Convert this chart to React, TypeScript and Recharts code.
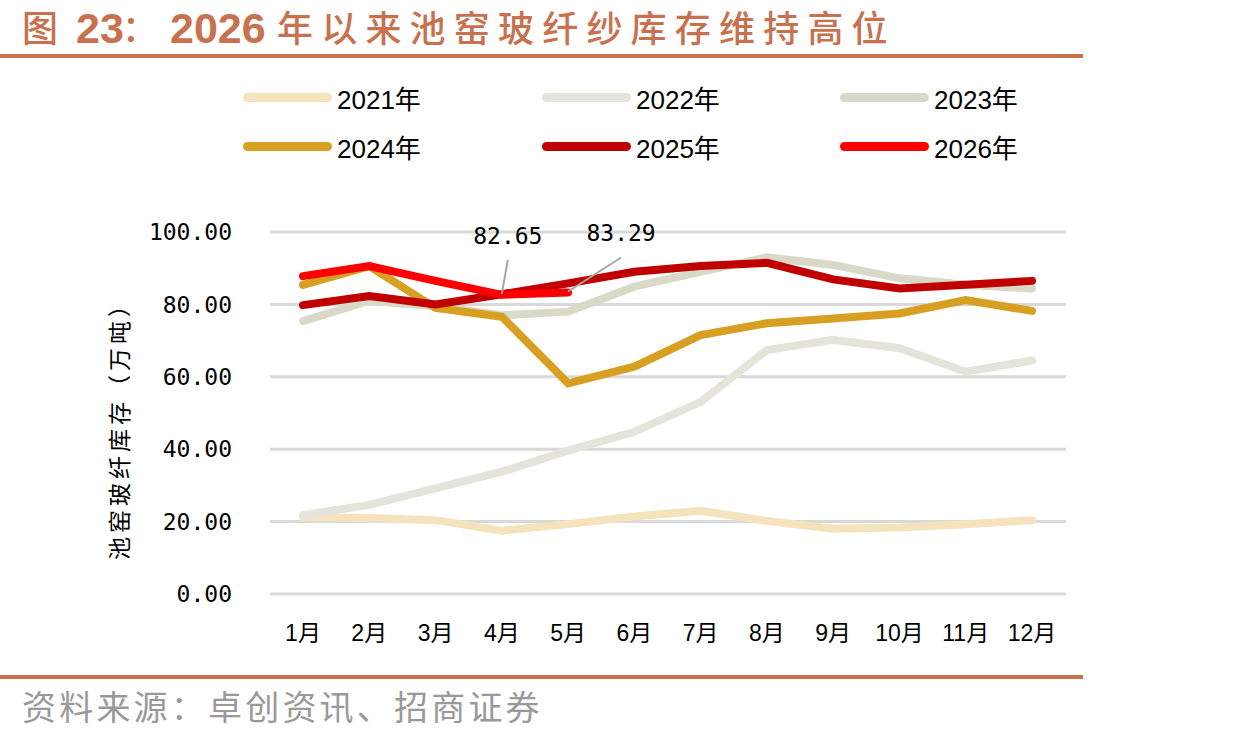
import React from "react";
import { LineChart, Line, XAxis, YAxis, CartesianGrid, Legend, LabelList } from "recharts";

// 池窑玻纤纱库存（万吨），按月
const months = ["1月", "2月", "3月", "4月", "5月", "6月", "7月", "8月", "9月", "10月", "11月", "12月"];
const inv2021 = [21.3, 21.0, 20.4, 17.5, 19.3, 21.4, 23.0, 20.2, 18.0, 18.4, 19.3, 20.4];
const inv2022 = [21.8, 24.6, 29.2, 33.8, 39.6, 44.8, 53.1, 67.4, 70.2, 67.9, 61.4, 64.5];
const inv2023 = [75.4, 81.0, 79.5, 77.0, 78.0, 84.9, 89.0, 93.0, 90.9, 87.2, 85.4, 84.4];
const inv2024 = [85.4, 90.6, 79.0, 76.6, 58.2, 62.8, 71.5, 74.8, 76.1, 77.5, 81.2, 78.2];
const inv2025 = [79.8, 82.3, 80.0, 82.8, 85.8, 89.0, 90.6, 91.5, 86.9, 84.4, 85.4, 86.5];
const inv2026 = [87.8, 90.6, 86.5, 82.65, 83.29];
const yTicks = [0, 20, 40, 60, 80, 100];

const series = [
  { key: "y2021", name: "2021年", color: "#F4E3BD", values: inv2021 },
  { key: "y2022", name: "2022年", color: "#E5E4DA", values: inv2022 },
  { key: "y2023", name: "2023年", color: "#D8D9C7", values: inv2023 },
  { key: "y2024", name: "2024年", color: "#D7A022", values: inv2024 },
  { key: "y2025", name: "2025年", color: "#C00000", values: inv2025 },
  { key: "y2026", name: "2026年", color: "#FF0000", values: inv2026 },
];

const data = months.map((m, i) => {
  const row: Record<string, string | number | undefined> = { month: m };
  series.forEach((s) => {
    row[s.key] = s.values[i];
  });
  return row;
});

const LATIN = '"Liberation Sans", Arial, "Noto Sans CJK SC", sans-serif';
const MONO = '"DejaVu Sans Mono", monospace';
const CJK = '"Noto Sans CJK SC", sans-serif';
const BRAND = "#C8714F";

// leader-line offsets for the two annotated 2026 points
const callouts: Record<number, { dx: number; dy: number }> = {
  3: { dx: 6, dy: -35 },
  4: { dx: 53, dy: -35 },
};

function Callout(props: any) {
  const { x, y, value, index } = props;
  const c = callouts[index];
  if (!c || value == null) return null;
  const ex = x + c.dx;
  const ey = y + c.dy;
  return (
    <g>
      <line x1={x} y1={y - 1} x2={ex} y2={ey} stroke="#A6A6A6" strokeWidth={2} />
      <text x={ex} y={ey - 24} textAnchor="middle" dominantBaseline="central" fontFamily={MONO} fontSize={23} fill="#000">
        {Number(value).toFixed(2)}
      </text>
    </g>
  );
}

function LegendGrid({ payload }: any) {
  const items = (payload && payload.length ? payload : series.map((s) => ({ value: s.name, color: s.color }))) as any[];
  return (
    <div style={{ display: "grid", gridTemplateColumns: "299px 298px 298px" }}>
      {items.map((it) => (
        <div key={it.value} style={{ display: "flex", alignItems: "center", height: 49 }}>
          <span style={{ width: 89, height: 9, borderRadius: 5, background: it.color, marginRight: 5 }} />
          <span style={{ fontFamily: LATIN, fontSize: 26, color: "#000" }}>{it.value}</span>
        </div>
      ))}
    </div>
  );
}

function AxisTitle(props: any) {
  const vb = props.viewBox || {};
  const cx = vb.x - 52;
  const cy = vb.y + vb.height / 2 + 12;
  return (
    <text
      x={cx}
      y={cy}
      transform={`rotate(-90 ${cx} ${cy})`}
      textAnchor="middle"
      dominantBaseline="central"
      fontFamily={CJK}
      fontSize={23}
      letterSpacing={4}
      fill="#000"
    >
      池窑玻纤库存（万吨）
    </text>
  );
}

function Title() {
  return (
    <svg width={1239} height={60} style={{ position: "absolute", left: 0, top: 0 }}>
      <text fill={BRAND}>
        <tspan x={22} y={42} fontFamily={CJK} fontSize={36} fontWeight={500}>图</tspan>
        <tspan x={76} y={43} fontFamily={LATIN} fontSize={43} fontWeight={700}>23</tspan>
        <tspan x={122} y={42} fontFamily={CJK} fontSize={36} fontWeight={500}>：</tspan>
        <tspan x={170} y={43} fontFamily={LATIN} fontSize={43} fontWeight={700}>2026</tspan>
        <tspan x={277} y={42} fontFamily={CJK} fontSize={36} fontWeight={500} letterSpacing={8.2}>
          年以来池窑玻纤纱库存维持高位
        </tspan>
      </text>
    </svg>
  );
}

export default function App() {
  return (
    <div style={{ position: "absolute", left: 0, top: 0, width: 1239, height: 738, background: "#fff", overflow: "hidden" }}>
      <Title />
      <div style={{ position: "absolute", left: 0, top: 54, width: 1083, height: 4, background: BRAND }} />

      <div style={{ position: "absolute", left: 0, top: 0 }}>
        <LineChart width={1239} height={738} data={data} margin={{ top: 232, right: 173, bottom: 104, left: 170 }}>
          <CartesianGrid vertical={false} stroke="#D9D9D9" strokeWidth={3} />
          <XAxis
            dataKey="month"
            axisLine={false}
            tickLine={false}
            tickSize={0}
            tickMargin={31}
            height={40}
            padding={{ left: 33, right: 34 }}
            interval={0}
            tick={{ fontFamily: LATIN, fontSize: 23, fill: "#000" }}
          />
          <YAxis
            domain={[0, 100]}
            ticks={yTicks}
            width={100}
            axisLine={false}
            tickLine={false}
            tickSize={0}
            tickMargin={38}
            tickFormatter={(v: number) => v.toFixed(2)}
            tick={{ fontFamily: MONO, fontSize: 23, fill: "#000" }}
            label={AxisTitle}
          />
          <Legend
            layout="horizontal"
            verticalAlign="middle"
            align="center"
            content={LegendGrid}
            wrapperStyle={{ left: 243, top: 73, width: 900 }}
          />
          {series.map((s) => (
            <Line
              key={s.key}
              dataKey={s.key}
              name={s.name}
              type="linear"
              stroke={s.color}
              strokeWidth={8}
              strokeLinecap="round"
              strokeLinejoin="miter"
              dot={false}
              activeDot={false}
              isAnimationActive={false}
            >
              {s.key === "y2026" && <LabelList dataKey={s.key} content={Callout} />}
            </Line>
          ))}
        </LineChart>
      </div>

      <div style={{ position: "absolute", left: 0, top: 675, width: 1083, height: 4, background: BRAND }} />
      <div
        style={{
          position: "absolute",
          left: 22,
          top: 686,
          fontFamily: CJK,
          fontSize: 34,
          lineHeight: "40px",
          letterSpacing: 3.2,
          color: "#999",
          whiteSpace: "nowrap",
        }}
      >
        资料来源：卓创资讯、招商证券
      </div>
    </div>
  );
}
